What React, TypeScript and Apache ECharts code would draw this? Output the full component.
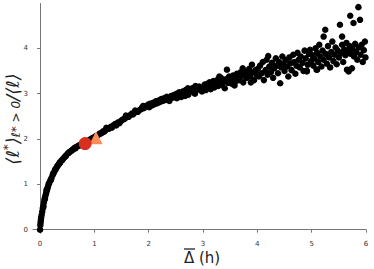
import React, { useEffect, useRef } from "react";
import * as echarts from "echarts";

const xTicks = [0, 1, 2, 3, 4, 5, 6];
const yTicks = [0, 1, 2, 3, 4];

const pointsNear: [number, number][] = [
  [0, 0], [0.005, 0.1], [0.01, 0.16], [0.015, 0.22], [0.02, 0.27], [0.03, 0.33], [0.04, 0.4],
  [0.05, 0.47], [0.06, 0.53], [0.07, 0.6], [0.08, 0.66], [0.09, 0.71], [0.1, 0.76], [0.11, 0.8],
  [0.12, 0.85], [0.13, 0.89], [0.14, 0.93], [0.15, 0.97], [0.17, 1.03], [0.19, 1.09], [0.21, 1.14],
  [0.23, 1.2], [0.25, 1.25], [0.27, 1.3], [0.29, 1.34], [0.31, 1.38], [0.33, 1.42], [0.35, 1.45],
  [0.37, 1.48], [0.39, 1.52], [0.42, 1.56], [0.45, 1.6], [0.48, 1.64], [0.51, 1.68], [0.54, 1.71],
  [0.57, 1.74], [0.6, 1.77], [0.63, 1.8], [0.66, 1.82], [0.69, 1.84], [0.72, 1.86], [0.75, 1.88],
  [0.78, 1.9], [0.85, 1.94], [0.88, 1.96], [0.92, 1.99], [0.95, 2.01], [0.98, 2.03],
  [0.06, 0.5], [0.09, 0.68], [0.12, 0.88], [0.16, 1.02], [0.2, 1.1], [0.24, 1.24], [0.28, 1.33],
  [0.32, 1.41], [0.36, 1.48], [0.41, 1.54], [0.47, 1.62], [0.53, 1.7], [0.59, 1.75], [0.65, 1.79],
  [0.71, 1.85],
];

const pointsMid: [number, number][] = [
  [1.02, 2.06], [1.05, 2.07], [1.08, 2.1], [1.1, 2.12], [1.13, 2.13], [1.16, 2.17], [1.18, 2.16],
  [1.21, 2.2], [1.24, 2.22], [1.27, 2.23], [1.3, 2.27], [1.32, 2.25], [1.35, 2.3], [1.38, 2.33],
  [1.41, 2.34], [1.44, 2.37], [1.46, 2.35], [1.49, 2.4], [1.52, 2.43], [1.55, 2.44], [1.58, 2.47],
  [1.6, 2.5], [1.63, 2.49], [1.66, 2.53], [1.69, 2.56], [1.71, 2.54], [1.74, 2.58], [1.77, 2.61],
  [1.8, 2.6], [1.83, 2.64], [1.86, 2.66], [1.88, 2.7], [1.91, 2.68], [1.94, 2.72], [1.97, 2.73],
  [1.99, 2.76], [1.22, 2.25], [1.4, 2.3], [1.58, 2.52], [1.75, 2.63], [1.9, 2.73],
  [2.01, 2.7], [2.03, 2.78], [2.06, 2.74], [2.08, 2.8], [2.11, 2.77], [2.13, 2.83], [2.16, 2.79],
  [2.18, 2.85], [2.21, 2.82], [2.23, 2.88], [2.26, 2.84], [2.28, 2.9], [2.31, 2.86], [2.33, 2.93],
  [2.36, 2.89], [2.38, 2.84], [2.41, 2.95], [2.43, 2.91], [2.46, 2.97], [2.48, 2.92], [2.51, 3.0],
  [2.53, 2.95], [2.56, 3.03], [2.58, 2.98], [2.6, 2.93], [2.63, 3.05], [2.65, 3.0], [2.68, 3.08],
  [2.7, 3.03], [2.73, 2.98], [2.75, 3.1], [2.78, 3.05], [2.8, 3.12], [2.83, 3.07], [2.85, 3.0],
  [2.88, 3.15], [2.9, 3.09], [2.93, 3.16], [2.95, 3.11], [2.98, 3.05], [2.52, 2.9], [2.67, 2.95],
  [2.86, 3.17], [2.72, 3.12],
];

const pointsFar: [number, number][] = [
  [3.01, 3.14], [3.03, 3.2], [3.05, 3.08], [3.08, 3.22], [3.1, 3.15], [3.12, 3.25], [3.14, 3.1],
  [3.17, 3.19], [3.19, 3.28], [3.21, 3.14], [3.24, 3.22], [3.26, 3.3], [3.28, 3.17], [3.31, 3.26],
  [3.33, 3.35], [3.35, 3.2], [3.38, 3.28], [3.4, 3.12], [3.42, 3.32], [3.44, 3.53], [3.46, 3.24],
  [3.48, 3.38], [3.5, 3.3], [3.53, 3.22], [3.55, 3.4], [3.57, 3.33], [3.6, 3.27], [3.62, 3.44],
  [3.64, 3.36], [3.67, 3.3], [3.69, 3.47], [3.71, 3.39], [3.74, 3.25], [3.76, 3.42], [3.78, 3.5],
  [3.8, 3.35], [3.83, 3.45], [3.85, 3.55], [3.87, 3.38], [3.9, 3.64], [3.92, 3.47], [3.94, 3.3],
  [3.97, 3.52], [3.99, 3.42], [3.3, 3.38], [3.58, 3.18], [3.73, 3.56], [3.88, 3.25],
  [4.01, 3.55], [4.03, 3.38], [4.05, 3.62], [4.08, 3.45], [4.1, 3.7], [4.12, 3.3], [4.15, 3.52],
  [4.17, 3.75], [4.19, 3.42], [4.2, 3.83], [4.22, 3.6], [4.25, 3.48], [4.27, 3.68], [4.29, 3.35],
  [4.31, 3.56], [4.34, 3.78], [4.36, 3.62], [4.38, 3.45], [4.4, 3.7], [4.42, 3.23], [4.44, 3.58],
  [4.46, 3.82], [4.48, 3.65], [4.5, 3.5], [4.52, 3.74], [4.55, 3.6], [4.57, 3.38], [4.59, 3.8],
  [4.61, 3.67], [4.63, 3.52], [4.66, 3.86], [4.68, 3.7], [4.7, 3.44], [4.72, 3.62], [4.74, 3.9],
  [4.76, 3.75], [4.78, 3.58], [4.8, 3.82], [4.83, 3.68], [4.85, 3.5], [4.87, 3.95], [4.89, 3.78],
  [4.91, 3.49], [4.93, 3.64], [4.95, 3.88], [4.97, 3.97], [4.99, 3.72],
  [5.01, 3.85], [5.03, 3.62], [5.05, 3.78], [5.07, 4.0], [5.09, 3.53], [5.1, 3.9], [5.12, 3.7],
  [5.14, 4.08], [5.16, 3.82], [5.18, 3.6], [5.2, 3.95], [5.22, 3.75], [5.25, 4.41], [5.26, 3.88],
  [5.28, 3.66], [5.3, 4.05], [5.32, 3.8], [5.34, 3.58], [5.36, 3.92], [5.38, 4.15], [5.4, 3.72],
  [5.42, 3.86], [5.44, 4.02], [5.46, 3.65], [5.48, 3.95], [5.5, 3.8], [5.52, 4.52], [5.54, 3.9],
  [5.56, 4.08], [5.58, 3.7], [5.6, 3.98], [5.62, 3.85], [5.64, 4.12], [5.65, 3.53], [5.66, 3.95],
  [5.68, 3.49], [5.7, 4.05], [5.71, 4.72], [5.72, 3.88], [5.74, 3.56], [5.75, 4.0], [5.77, 4.56],
  [5.78, 3.82], [5.8, 4.1], [5.82, 3.92], [5.84, 3.75], [5.86, 4.91], [5.87, 4.02], [5.89, 4.63],
  [5.9, 3.86], [5.92, 4.08], [5.94, 3.7], [5.96, 3.96], [5.98, 4.15], [5.99, 3.8], [5.1, 3.53],
  [4.91, 3.51], [5.22, 4.26], [5.56, 4.26],
];

const circlePoint: [number, number][] = [[0.83, 1.9]];
const trianglePoint: [number, number][] = [[1.03, 2.03]];

const FONT = "DejaVu Sans";

export default function App() {
  const ref = useRef<HTMLDivElement>(null);
  useEffect(() => {
    if (!ref.current) return;
    const chart = echarts.init(ref.current, null, { renderer: "svg" });
    chart.setOption({
      animation: false,
      grid: { left: 33, right: 8, top: 3.5, bottom: 35.7 },
      xAxis: {
        type: "value",
        min: -0.13,
        max: 6,
        offset: 4,
        splitLine: { show: false },
        axisLine: { show: true, lineStyle: { color: "#777", width: 1 } },
        axisTick: { show: true, length: 3, customValues: xTicks, lineStyle: { color: "#777" } },
        axisLabel: {
          customValues: xTicks,
          fontSize: 7,
          color: "#333",
          fontFamily: FONT,
          margin: 3,
        },
      },
      yAxis: {
        type: "value",
        min: -0.08,
        max: 4.99,
        offset: 2,
        splitLine: { show: false },
        axisLine: { show: true, lineStyle: { color: "#777", width: 1 } },
        axisTick: { show: true, length: 3, customValues: yTicks, lineStyle: { color: "#777" } },
        axisLabel: {
          customValues: yTicks,
          fontSize: 7,
          color: "#333",
          fontFamily: FONT,
          margin: 3,
        },
      },
      series: [
        {
          type: "scatter",
          data: [...pointsNear, ...pointsMid, ...pointsFar],
          symbol: "circle",
          symbolSize: 6.5,
          itemStyle: { color: "#000", opacity: 1 },
          silent: true,
        },
        {
          type: "scatter",
          data: trianglePoint,
          symbol: "triangle",
          symbolSize: 13,
          itemStyle: { color: "#fc8d59", opacity: 1 },
          silent: true,
        },
        {
          type: "scatter",
          data: circlePoint,
          symbol: "circle",
          symbolSize: 13,
          itemStyle: { color: "#d7301f", opacity: 1 },
          silent: true,
        },
      ],
      graphic: [
        {
          type: "text",
          x: 12,
          y: 119,
          rotation: Math.PI / 2,
          style: {
            text: "{a|⟨ℓ}{sup|*}{a|⟩}{sub|ℓ* > 0}{a|/⟨ℓ⟩}",
            align: "center",
            verticalAlign: "middle",
            fill: "#222",
            rich: {
              a: { fontSize: 18, fontFamily: FONT, fontStyle: "italic", fill: "#222", verticalAlign: "middle" },
              sup: { fontSize: 12, fontFamily: FONT, fontStyle: "italic", fill: "#222", verticalAlign: "top" },
              sub: { fontSize: 12, fontFamily: FONT, fontStyle: "italic", fill: "#222", verticalAlign: "bottom", padding: [8, 0, 0, 0] },
            },
          },
        },
        {
          type: "text",
          x: 202,
          y: 258,
          style: {
            text: "Δ (h)",
            align: "center",
            verticalAlign: "middle",
            fontSize: 15,
            fontFamily: FONT,
            fill: "#222",
          },
        },
        {
          type: "line",
          shape: { x1: 184, y1: 249, x2: 195, y2: 249 },
          style: { stroke: "#222", lineWidth: 1.3 },
        },
      ],
    });
    return () => chart.dispose();
  }, []);
  return <div ref={ref} style={{ width: 374, height: 269, position: "absolute", left: 0, top: 0 }} />;
}
